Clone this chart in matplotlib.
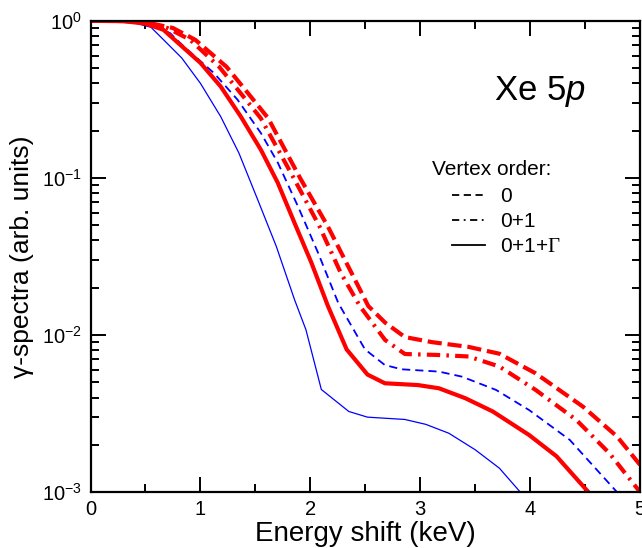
import numpy as np
import matplotlib
matplotlib.use("Agg")
from matplotlib import pyplot as plt
from matplotlib.lines import Line2D

plt.rcParams['font.family'] = ['Liberation Sans', 'DejaVu Sans']
plt.rcParams['mathtext.fontset'] = 'custom'
plt.rcParams['mathtext.rm'] = 'Liberation Serif'
plt.rcParams['mathtext.it'] = 'Liberation Sans:italic'
plt.rcParams['axes.unicode_minus'] = False

# red curves (thick)
x_red_0 = [0, 0.3, 0.5, 0.75, 0.953, 1.237, 1.457, 1.616, 1.906, 2.16, 2.374, 2.527, 2.68,
           2.86, 3.11, 3.44, 3.72, 4.05, 4.48, 4.79, 5.0]
y_red_0 = [1.0, 0.998, 0.98, 0.9, 0.757, 0.51, 0.33, 0.24, 0.1, 0.049, 0.0249, 0.0153, 0.012,
           9.7e-3, 9.0e-3, 8.4e-3, 7.6e-3, 5.7e-3, 3.5e-3, 2.26e-3, 1.49e-3]

x_red_01 = [0, 0.3, 0.5, 0.7, 0.907, 1.17, 1.39, 1.549, 1.848, 2.084, 2.276, 2.45, 2.68, 2.86,
            3.17, 3.44, 3.72, 4.05, 4.42, 4.72, 5.0]
y_red_01 = [1.0, 0.997, 0.975, 0.9, 0.757, 0.51, 0.33, 0.24, 0.1, 0.049, 0.0249, 0.0153,
            9.3e-3, 7.57e-3, 7.46e-3, 7.3e-3, 6.3e-3, 4.47e-3, 2.88e-3, 1.77e-3, 1.0e-3]

x_red_01g = [0, 0.3, 0.5, 0.663, 1.0, 1.184, 1.367, 1.55, 1.704, 1.856, 2.01, 2.16, 2.33,
             2.52, 2.678, 2.98, 3.17, 3.41, 3.66, 3.99, 4.24, 4.53, 4.6]
y_red_01g = [1.0, 0.995, 0.96, 0.877, 0.54, 0.382, 0.246, 0.151, 0.093, 0.0517, 0.0288,
             0.0153, 8.1e-3, 5.6e-3, 4.93e-3, 4.8e-3, 4.58e-3, 3.96e-3, 3.26e-3, 2.31e-3,
             1.69e-3, 1.0e-3, 0.9e-3]

# blue curves (thin)
x_blue_0 = [0, 0.3, 0.5, 0.724, 0.848, 1.123, 1.337, 1.55, 1.704, 1.887, 2.07, 2.254, 2.497,
            2.678, 2.83, 3.17, 3.38, 3.69, 3.99, 4.36, 4.79, 4.9]
y_blue_0 = [1.0, 0.995, 0.97, 0.835, 0.687, 0.465, 0.315, 0.193, 0.125, 0.066, 0.0334, 0.016,
            8.1e-3, 6.44e-3, 6.05e-3, 5.85e-3, 5.43e-3, 4.47e-3, 3.33e-3, 2.15e-3, 1.0e-3,
            0.85e-3]

x_blue_01g = [0, 0.2, 0.4, 0.55, 0.665, 0.83, 1.0, 1.184, 1.35, 1.52, 1.69, 1.856, 1.96, 2.1,
              2.35, 2.52, 2.86, 3.05, 3.26, 3.5, 3.72, 3.91, 4.0]
y_blue_01g = [1.0, 0.995, 0.97, 0.91, 0.757, 0.58, 0.4, 0.246, 0.144, 0.073, 0.0367, 0.0168,
              0.0108, 4.5e-3, 3.26e-3, 3.0e-3, 2.9e-3, 2.7e-3, 2.37e-3, 1.86e-3, 1.42e-3,
              1.0e-3, 0.85e-3]

legend_labels = ["0", "0+1", "0+1+$\\Gamma$"]

fig = plt.figure(figsize=(6.42, 5.48), dpi=100)
ax = fig.add_axes([0.141, 0.102, 0.856, 0.860])

ax.plot(x_blue_01g, y_blue_01g, color='blue', lw=0.9)
ax.plot(x_blue_0, y_blue_0, color='blue', lw=1.3, dashes=(4.5, 2.8))
ax.plot(x_red_01g, y_red_01g, color='red', lw=3.0)
ax.plot(x_red_01, y_red_01, color='red', lw=3.0, dashes=(3.2, 1.5, 0.6, 1.5))
ax.plot(x_red_0, y_red_0, color='red', lw=3.0, dashes=(3.4, 1.4))

ax.set_yscale('log')
ax.set_xlim(0, 5)
ax.set_ylim(1e-3, 1)
ax.set_xticks([0, 1, 2, 3, 4, 5])
ax.set_xticks(np.arange(0.5, 5, 1.0), minor=True)
ax.tick_params(which='both', direction='in', top=True, right=True, width=1.4,
               labelsize=14.5, pad=6)
ax.tick_params(which='major', length=11)
ax.tick_params(which='minor', length=5.5)
for s in ax.spines.values():
    s.set_linewidth(1.6)

ax.set_xlabel("Energy shift (keV)", fontsize=20, labelpad=1)
ax.set_ylabel("γ-spectra (arb. units)", fontsize=19, labelpad=6)

ax.text(0.818, 0.85, "Xe 5$p$", transform=ax.transAxes, fontsize=25,
        ha='center', va='center')

ax.text(0.621, 0.684, "Vertex order:", transform=ax.transAxes, fontsize=15,
        ha='left', va='center')
handles = [Line2D([], [], color='black', lw=1.3, dashes=(4, 2.5)),
           Line2D([], [], color='black', lw=1.3, dashes=(4, 2.5, 1, 2.5)),
           Line2D([], [], color='black', lw=1.3)]
ax.legend(handles, legend_labels, loc='upper left', bbox_to_anchor=(0.658, 0.6465),
          frameon=False, fontsize=15, handlelength=1.6, handletextpad=0.7,
          labelspacing=0.28, borderpad=0, borderaxespad=0)

fig.savefig("out.png", dpi=100)
